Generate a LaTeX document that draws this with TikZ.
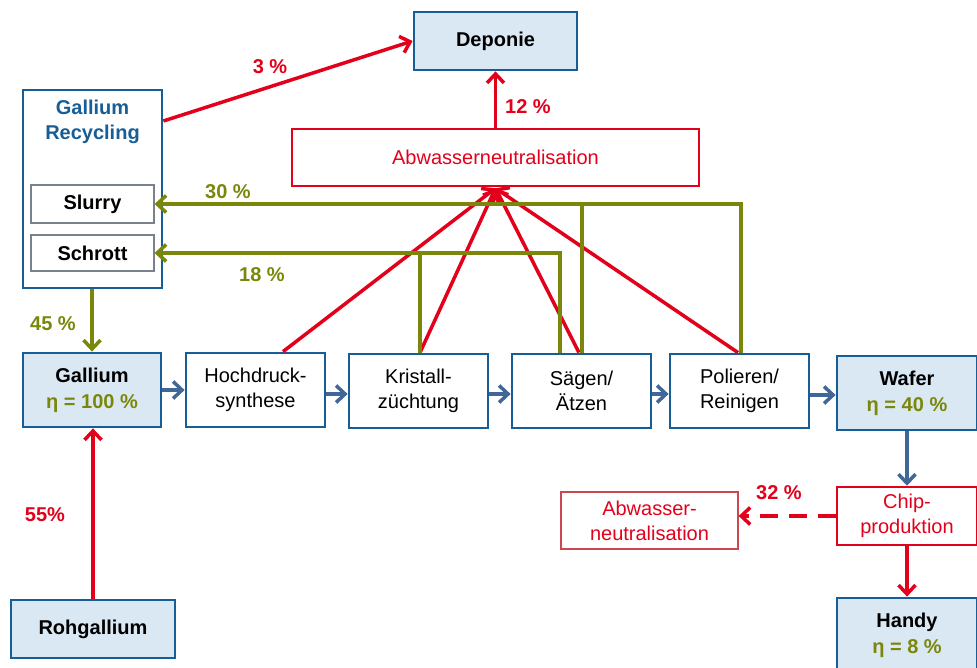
\documentclass[tikz,border=0pt]{standalone}
\usepackage{fontspec}
\setmainfont{Liberation Sans}
\usetikzlibrary{arrows.meta,calc}
\definecolor{bborder}{RGB}{24,94,150}
\definecolor{bfill}{RGB}{218,232,244}
\definecolor{barrow}{RGB}{64,103,152}
\definecolor{rred}{RGB}{227,0,27}
\definecolor{rthin}{RGB}{205,70,80}
\definecolor{grn}{RGB}{122,135,10}
\definecolor{gborder}{RGB}{120,130,140}
\begin{document}
\begin{tikzpicture}[x=1pt,y=-1pt,
  every node/.style={font=\fontsize{20}{25}\selectfont, align=center, inner sep=0pt},
  bluebox/.style={draw=bborder, line width=2.8pt, fill=bfill, font=\fontsize{20}{26}\selectfont\bfseries},
  whitebox/.style={draw=bborder, line width=2.8pt, fill=white},
  redbox/.style={draw=rred, line width=2.5pt, fill=white, text=rred},
  subbox/.style={draw=gborder, line width=1.2pt, fill=white, font=\fontsize{20}{25}\selectfont\bfseries},
  tip/.style={-{Straight Barb[length=9pt,width=17pt]}},
  redl/.style={draw=rred, line width=3.5pt},
  grnl/.style={draw=grn, line width=3.5pt},
  bluel/.style={draw=barrow, line width=3.5pt},
  lbl/.style={font=\fontsize{20}{25}\selectfont\bfseries},
]
\useasboundingbox (0,0) rectangle (977,668);

% nodes
\node[bluebox, minimum width=163, minimum height=58] (dep) at (495.5,41) {Deponie};
\node[whitebox, minimum width=139, minimum height=198] (rec) at (92.5,189) {};
\node[text=bborder, font=\fontsize{20}{25}\selectfont\bfseries] (rectitle) at (92.5,122) {Gallium\\Recycling};
\node[subbox, minimum width=123, minimum height=38] (slurry) at (92.5,204) {Slurry};
\node[subbox, minimum width=123, minimum height=36] (schrott) at (92.5,253) {Schrott};
\node[redbox, minimum width=407, minimum height=57] (abw) at (495.5,157.5) {Abwasserneutralisation};
\node[bluebox, minimum width=138, minimum height=74] (gal) at (92,390) {Gallium\\{\color{grn}η = 100 \%}};
\node[whitebox, minimum width=139, minimum height=74] (hoch) at (255.5,390) {Hochdruck-\\synthese};
\node[whitebox, minimum width=139, minimum height=74] (krist) at (418.5,391) {Kristall-\\züchtung};
\node[whitebox, minimum width=139, minimum height=74] (saeg) at (581.5,391) {Sägen/\\Ätzen};
\node[whitebox, minimum width=139, minimum height=74] (pol) at (739.5,391) {Polieren/\\Reinigen};
\node[bluebox, minimum width=140, minimum height=74] (wafer) at (907,393) {Wafer\\{\color{grn}η = 40 \%}};
\node[redbox, minimum width=140, minimum height=58] (chip) at (907,516) {Chip-\\produktion};
\node[draw=rthin, line width=1.3pt, fill=white, text=rred, minimum width=177, minimum height=57] (abw2) at (649.5,520.5) {Abwasser-\\neutralisation};
\node[bluebox, minimum width=140, minimum height=74] (handy) at (907,635) {Handy\\{\color{grn}η = 8 \%}};
\node[bluebox, minimum width=164, minimum height=58] (roh) at (93,629) {Rohgallium};

% red arrows
\draw[redl, tip] (rec.east |- 0,121) -- (dep.west);
\draw[redl, tip] (abw.north) -- (dep.south);
\coordinate (conv) at ($(abw.south)+(0,1)$);
\draw[redl, tip] ([xshift=27.5pt]hoch.north) -- (conv);
\draw[redl, tip] ([xshift=1.5pt]krist.north) -- (conv);
\draw[redl, tip] ([xshift=-2.5pt]saeg.north) -- (conv);
\draw[redl, tip] ([xshift=-1.5pt]pol.north) -- (conv);
\draw[redl, tip] (roh.north) -- (roh.north |- gal.south);
\draw[redl, tip] (chip.south) -- (handy.north);
\draw[redl, tip, dash pattern=on 18pt off 11pt] (chip.west) -- (abw2.east |- chip.west);

% green arrows
\draw[grnl, tip] ([xshift=1.5pt]pol.north) |- (slurry.east);
\draw[grnl] ([xshift=0.5pt]saeg.north) -- ([xshift=0.5pt]saeg.north |- slurry.east);
\draw[grnl, tip] ([xshift=-21.5pt]saeg.north) |- (schrott.east);
\draw[grnl] ([xshift=1.5pt]krist.north) -- ([xshift=1.5pt]krist.north |- schrott.east);
\draw[grnl, tip] (rec.south -| gal.north) -- (gal.north);

% blue arrows
\draw[bluel, tip] (gal.east) -- (hoch.west);
\draw[bluel, tip] (hoch.east |- 0,394) -- (krist.west |- 0,394);
\draw[bluel, tip] (krist.east |- 0,394) -- (saeg.west |- 0,394);
\draw[bluel, tip] (saeg.east |- 0,394) -- (pol.west |- 0,394);
\draw[bluel, tip] (pol.east |- 0,395) -- (wafer.west |- 0,395);
\draw[bluel, tip] (wafer.south) -- (chip.north);

% labels
\node[lbl, text=rred] (l3) at (270,67) {3 \%};
\node[lbl, text=rred] (l12) at (528,107) {12 \%};
\node[lbl, text=grn] (l30) at (228,192) {30 \%};
\node[lbl, text=grn] (l18) at (262,275) {18 \%};
\node[lbl, text=grn] (l45) at (53,324) {45 \%};
\node[lbl, text=rred] (l55) at (45,515) {55\%};
\node[lbl, text=rred] (l32) at (779,493) {32 \%};
\end{tikzpicture}
\end{document}
